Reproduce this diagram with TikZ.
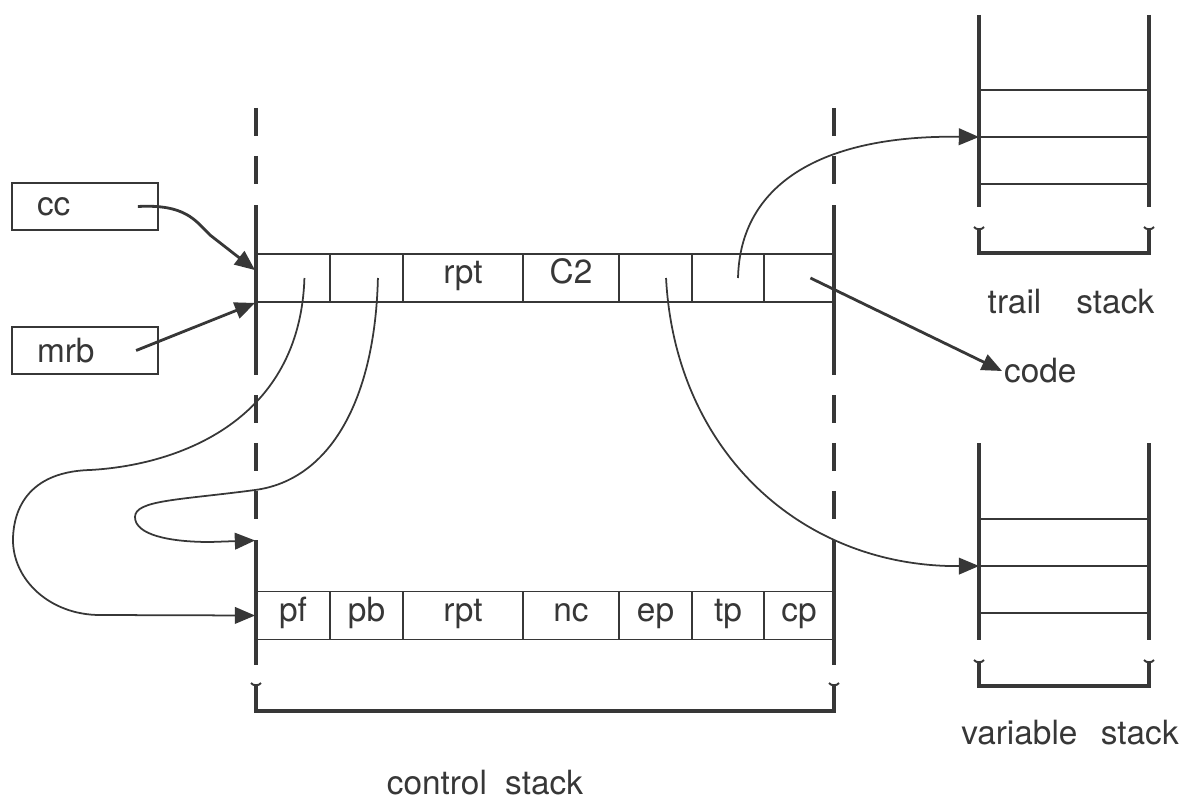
\documentclass[tikz,border=0pt]{standalone}
\usepackage{fontspec}
\setmainfont{TeX Gyre Heros}
\usetikzlibrary{arrows.meta}

\begin{document}
\begin{tikzpicture}[x=0.02cm, y=-0.02cm, font=\fontsize{19}{22}\selectfont,
    cell/.style={draw=myink, line width=1.1pt, minimum height=0.96cm, inner sep=0pt,
        text height=1.5ex, text depth=0.25ex, text=myink},
    regbox/.style={draw=myink, line width=1.1pt, minimum height=0.94cm, inner xsep=0.5cm,
        text width=1.92cm, align=left, text=myink},
    wall/.style={myink, line width=2pt},
    dashwall/.style={wall, dash pattern=on 15.9pt off 11.4pt},
    rung/.style={myink, line width=1.1pt},
    lbl/.style={text=myink, inner sep=1pt},
    ptr/.style={myink, line width=1pt, -{Triangle[length=11.5pt, width=9.5pt]}},
    bigptr/.style={ptr, line width=1.6pt}]
    \definecolor{myink}{RGB}{55,55,55}
    \useasboundingbox (0,0) rectangle (1195,804);

    % control stack
    \foreach \x in {256,834} {
        \draw[dashwall] (\x,108) -- (\x,185);
        \draw[wall] (\x,205) -- (\x,375);
        \draw[dashwall] (\x,395) -- (\x,520);
        \draw[wall] (\x,540) -- (\x,665);
        \draw[rung] (\x-5,683) .. controls (\x-3,686) and (\x+3,686) .. (\x+5,683);
    }
    \draw[wall] (256,684) -- (256,711) -- (834,711) -- (834,684);

    \foreach \n/\xa/\xb/\ttxt/\btxt in {1/256/330/{}/pf, 2/330/403/{}/pb, 3/403/523/rpt/rpt,
            4/523/619/C2/nc, 5/619/692/{}/ep, 6/692/764/{}/tp, 7/764/834/{}/cp} {
        \pgfmathsetmacro{\cw}{(\xb-\xa)*0.02}
        \node[cell, minimum width=\cw cm] (t\n) at ({(\xa+\xb)/2},278) {\ttxt};
        \node[cell, minimum width=\cw cm] (b\n) at ({(\xa+\xb)/2},615.5) {\btxt};
    }

    % trail and variable stacks
    \foreach \ytop/\ybot/\yrow/\cname in {15/207/90/trailin, 443/640/519/varin} {
        \draw[wall] (979,\ytop) -- (979,\ybot);
        \draw[wall] (1149,\ytop) -- (1149,\ybot);
        \foreach \k in {0,1,2}
            \draw[rung] (979,\yrow+\k*47) -- (1149,\yrow+\k*47);
        \draw[wall] (979,\ybot+21) -- (979,\ybot+46) -- (1149,\ybot+46) -- (1149,\ybot+21);
        \draw[rung] (974,\ybot+20) .. controls (976,\ybot+23) and (982,\ybot+23) .. (984,\ybot+20)
            (1144,\ybot+20) .. controls (1146,\ybot+23) and (1152,\ybot+23) .. (1154,\ybot+20);
        \coordinate (\cname) at (979,\yrow+47);
    }

    \node[lbl] (trail) at (1071,302) {trail\hspace{1.05em}stack};
    \node[lbl] (vars) at (1070,733) {variable\hspace{0.7em}stack};
    \node[lbl] (ctrl) at (485,783) {control\hspace{0.55em}stack};
    \node[lbl, anchor=west] (code) at (1002,371) {code};

    \node[regbox] (cc) at (85,206.5) {cc};
    \node[regbox] (mrb) at (85,350.5) {mrb};

    \draw[bigptr] ([xshift=-12pt]cc.east) .. controls (185,204) and (195,220) .. (210,235)
        -- ([yshift=4.5pt]t1.west);
    \draw[bigptr] ([xshift=-13pt]mrb.east) -- (t1.south west);

    \draw[ptr] ([xshift=6.5pt]t1.center) .. controls (300,420) and (180,465) .. (90,470)
        .. controls (20,472) and (13,520) .. (13,540)
        .. controls (13,580) and (50,615) .. (100,615) -- (b1.west);
    \draw[ptr] ([xshift=6.5pt]t2.center) .. controls (375,400) and (330,480) .. (255,490)
        .. controls (180,500) and (135,500) .. (135,517)
        .. controls (135,535) and (170,542) .. (210,542) -- ([yshift=28.5pt]b1.north west);
    \draw[ptr] ([xshift=6pt]t5.center) .. controls (675,450) and (800,567) .. (varin);
    \draw[ptr] ([xshift=5.7pt]t6.center) .. controls (740,185) and (820,135) .. (trailin);
    \draw[bigptr] ([xshift=6.5pt]t7.center) -- (code.west);
\end{tikzpicture}
\end{document}
